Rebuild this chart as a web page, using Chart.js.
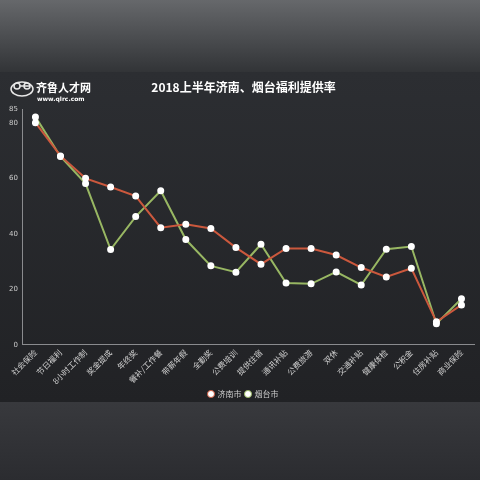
<!DOCTYPE html>
<html>
<head>
<meta charset="utf-8">
<script src="https://cdn.jsdelivr.net/npm/chart.js@4"></script>
<style>
  html, body { margin: 0; padding: 0; background: #2a2b2f; }
  #wrap { width: 480px; height: 480px; position: relative; }
</style>
</head>
<body>
<div id="wrap"><canvas id="welfareChart"></canvas></div>
<script>
/* Data */
const categories = ['社会保险', '节日福利', '8小时工作制', '奖金提成', '年终奖', '餐补/工作餐',
  '带薪年假', '全勤奖', '公费培训', '提供住宿', '通讯补贴', '公费旅游', '双休', '交通补贴',
  '健康体检', '公积金', '住房补贴', '商业保险'];
const jinan = [80.2, 68.2, 60.1, 57.0, 53.7, 42.3, 43.5, 42.0, 35.1, 29.1, 34.8, 34.8, 32.4, 27.9, 24.5, 27.6, 8.3, 14.4];
const yantai = [82.3, 68.0, 58.2, 34.4, 46.3, 55.6, 38.0, 28.5, 26.2, 36.3, 22.3, 22.0, 26.3, 21.6, 34.5, 35.5, 7.6, 16.6];
const yTicks = [0, 20, 40, 60, 80, 85];

/* Background bands + logo */
const backdrop = {
  id: 'backdrop',
  beforeDraw(chart) {
    const ctx = chart.ctx;
    ctx.save();
    let g = ctx.createLinearGradient(0, 0, 0, 72);
    g.addColorStop(0, '#66686b');
    g.addColorStop(1, '#323437');
    ctx.fillStyle = g;
    ctx.fillRect(0, 0, 480, 72);
    g = ctx.createLinearGradient(0, 72, 0, 402);
    g.addColorStop(0, '#2c2e32');
    g.addColorStop(1, '#212225');
    ctx.fillStyle = g;
    ctx.fillRect(0, 72, 480, 330);
    g = ctx.createLinearGradient(0, 402, 0, 480);
    g.addColorStop(0, '#38393d');
    g.addColorStop(1, '#2b2c30');
    ctx.fillStyle = g;
    ctx.fillRect(0, 402, 480, 78);

    // logo
    ctx.strokeStyle = '#e8e8e8';
    ctx.lineWidth = 1.5;
    ctx.beginPath();
    ctx.ellipse(22, 89, 11, 7, 0, 0, Math.PI * 2);
    ctx.stroke();
    ctx.beginPath();
    ctx.arc(17, 86, 3, 0, Math.PI * 2);
    ctx.arc(27, 86, 3, 0, Math.PI * 2);
    ctx.stroke();
    ctx.fillStyle = '#ffffff';
    ctx.font = 'bold 11px "Noto Sans CJK SC"';
    ctx.textBaseline = 'middle';
    ctx.fillText('齐鲁人才网', 36, 88);
    ctx.font = 'bold 6px "DejaVu Sans"';
    ctx.fillText('www.qlrc.com', 37, 99);
    ctx.restore();
  }
};

/* Config */
const config = {
  type: 'line',
  data: {
    labels: categories,
    datasets: [{
      label: '济南市',
      data: jinan,
      borderColor: '#cb583d',
      backgroundColor: '#cb583d',
      borderWidth: 2,
      pointBackgroundColor: '#ffffff',
      pointBorderColor: '#ffffff',
      pointRadius: 2.5,
      tension: 0
    }, {
      label: '烟台市',
      data: yantai,
      borderColor: '#98b763',
      backgroundColor: '#98b763',
      borderWidth: 2,
      pointBackgroundColor: '#ffffff',
      pointBorderColor: '#ffffff',
      pointRadius: 2.5,
      tension: 0
    }]
  },
  options: {
    responsive: true,
    maintainAspectRatio: false,
    animation: false,
    layout: {padding: {top: 80, bottom: 72, left: 7, right: 0}},
    plugins: {
      title: {
        display: true,
        text: '2018上半年济南、烟台福利提供率',
        color: '#ffffff',
        font: {size: 12, weight: 'bold', family: '"Noto Sans CJK SC"'},
        padding: {top: 0, bottom: 15}
      },
      legend: {
        position: 'bottom',
        labels: {
          color: '#cccccc',
          font: {size: 8, family: '"Noto Sans CJK SC"'},
          usePointStyle: true,
          pointStyle: 'circle',
          boxWidth: 5,
          boxHeight: 5,
          padding: 4,
          generateLabels(chart) {
            return chart.data.datasets.map((ds, i) => ({
              text: ds.label,
              fillStyle: '#ffffff',
              strokeStyle: ds.borderColor,
              lineWidth: 1,
              fontColor: '#cccccc',
              pointStyle: 'circle',
              datasetIndex: i
            }));
          }
        }
      },
      tooltip: {enabled: false}
    },
    scales: {
      x: {
        offset: true,
        grid: {display: false, drawTicks: true, tickLength: 3},
        border: {color: '#8a8b8e'},
        ticks: {
          color: '#d0d0d0',
          font: {size: 8, family: '"Noto Sans CJK SC"'},
          maxRotation: 45,
          minRotation: 45,
          autoSkip: false,
          padding: 0
        }
      },
      y: {
        min: 0,
        max: 85,
        grid: {display: false, tickLength: 3},
        border: {color: '#8a8b8e'},
        afterBuildTicks(scale) {
          scale.ticks = yTicks.map(v => ({value: v}));
        },
        ticks: {
          color: '#cccccc',
          font: {size: 7, family: '"DejaVu Sans"'},
          padding: 2
        }
      }
    }
  },
  plugins: [backdrop]
};

/* Render chart */
const welfareChart = new Chart(document.getElementById('welfareChart'), config);
</script>
</body>
</html>
